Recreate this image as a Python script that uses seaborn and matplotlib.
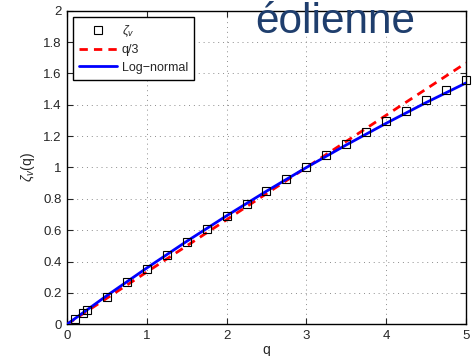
import numpy as np
import pandas as pd
import matplotlib
matplotlib.use("Agg")
import matplotlib.pyplot as plt
import seaborn as sns

# Data
q_markers = [0.1, 0.2, 0.25, 0.5, 0.75, 1.0, 1.25, 1.5, 1.75, 2.0, 2.25, 2.5,
             2.75, 3.0, 3.25, 3.5, 3.75, 4.0, 4.25, 4.5, 4.75, 5.0]
zeta_markers = [0.034, 0.07, 0.09, 0.176, 0.268, 0.355, 0.439, 0.524, 0.607,
                0.69, 0.769, 0.85, 0.926, 1.003, 1.077, 1.150, 1.224, 1.295,
                1.363, 1.429, 1.497, 1.560]
q_linear = [0.0, 5.0]
zeta_linear = [0.0, 5.0 / 3.0]
q_lognormal = [0.0, 0.5, 1.0, 1.5, 2.0, 2.5, 3.0, 3.5, 4.0, 4.5, 5.0]
zeta_lognormal = [0.0, 0.183, 0.359, 0.529, 0.692, 0.849, 1.0, 1.144, 1.282,
                  1.414, 1.539]
x_ticks = [0, 1, 2, 3, 4, 5]
y_ticks = [0, 0.2, 0.4, 0.6, 0.8, 1, 1.2, 1.4, 1.6, 1.8, 2]
y_ticklabels = ["0", "0.2", "0.4", "0.6", "0.8", "1", "1.2", "1.4", "1.6", "1.8", "2"]

sns.set_theme(style="white")
plt.rcParams["font.family"] = ["Liberation Sans", "DejaVu Sans"]
plt.rcParams["mathtext.fontset"] = "custom"
plt.rcParams["mathtext.rm"] = "Liberation Sans"
plt.rcParams["mathtext.it"] = "Liberation Sans:italic"
plt.rcParams["axes.unicode_minus"] = True

df_m = pd.DataFrame({"q": q_markers, "zeta": zeta_markers})
df_l = pd.DataFrame({"q": q_linear, "zeta": zeta_linear})
df_n = pd.DataFrame({"q": q_lognormal, "zeta": zeta_lognormal})

fig = plt.figure(figsize=(4.75, 3.56), dpi=100)
ax = fig.add_axes([0.141, 0.089, 0.840, 0.881])

sns.lineplot(data=df_l, x="q", y="zeta", ax=ax, color="#ff0000", lw=2.0,
             linestyle=(0, (3, 2.2)), label="q/3", zorder=2)
sns.lineplot(data=df_n, x="q", y="zeta", ax=ax, color="#0000ff", lw=2.0,
             label="Log\u2212normal", zorder=3)
ax.plot(df_m["q"], df_m["zeta"], linestyle="none", marker="s", markersize=6,
        markerfacecolor="none", markeredgecolor="black", markeredgewidth=0.8,
        label=r"$\zeta_v$", zorder=4, clip_on=False)

ax.set_xlim(0, 5)
ax.set_ylim(0, 2)
ax.set_xticks(x_ticks)
ax.set_xticklabels([str(t) for t in x_ticks])
ax.set_yticks(y_ticks)
ax.set_yticklabels(y_ticklabels)
ax.tick_params(direction="in", length=4, width=0.8, labelsize=9.5,
               top=True, right=True, bottom=True, left=True, pad=4)
for s in ax.spines.values():
    s.set_color("black")
    s.set_linewidth(1.0)
ax.grid(True, linestyle=(0, (1, 4)), color="0.55", linewidth=0.7)

ax.set_xlabel("q", fontsize=10, labelpad=1)
ax.set_ylabel(r"$\zeta_v$(q)", fontsize=10, labelpad=4)

handles, labels = ax.get_legend_handles_labels()
order = [labels.index(r"$\zeta_v$"), labels.index("q/3"), labels.index("Log\u2212normal")]
leg = ax.legend([handles[i] for i in order], [labels[i] for i in order],
                loc="upper left", bbox_to_anchor=(0.015, 0.979), borderaxespad=0,
                fontsize=9, frameon=True, fancybox=False, edgecolor="black",
                framealpha=1, borderpad=0.5, handlelength=3.0,
                labelspacing=0.42, handletextpad=0.4)
leg.get_frame().set_linewidth(1.0)

fig.text(0.706, 0.907, "éolienne", fontsize=30.5, color="#1f3e6d",
         ha="center", va="baseline")

fig.savefig("out.png", dpi=100)
